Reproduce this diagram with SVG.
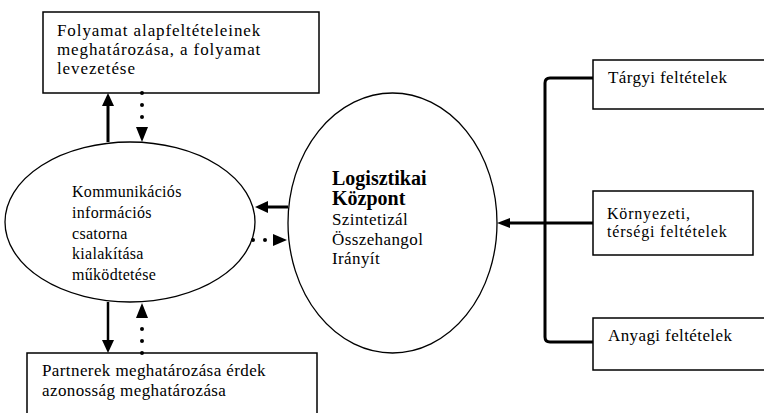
<svg xmlns="http://www.w3.org/2000/svg" width="764" height="413" viewBox="0 0 764 413">
<style>
.box{fill:#fff;stroke:#000;stroke-width:1.5}
.ell{fill:#fff;stroke:#000;stroke-width:1.3}
.t{font-family:"Liberation Serif","Times New Roman",serif;font-size:16px;fill:#000;letter-spacing:0.3px}
.t18{font-size:17px;letter-spacing:0.9px}
.t17{font-size:17px;letter-spacing:0.4px}
.t16{font-size:16px;letter-spacing:0.8px}
.b{font-family:"Liberation Serif","Times New Roman",serif;font-size:20px;font-weight:bold;fill:#000}
.solid{stroke:#000;stroke-width:3;fill:none}
.thin{stroke:#000;stroke-width:2.5;fill:none}
.dot{stroke:#000;stroke-width:4;stroke-linecap:round;stroke-dasharray:0 12;fill:none}
.head{fill:#000}
</style>
<rect width="764" height="413" fill="#fff"/>
<g id="node-top">
<rect class="box" x="43" y="12" width="276" height="81"/>
<text class="t t18" x="57" y="36">Folyamat alapfeltételeinek</text>
<text class="t t18" x="57" y="55">meghatározása, a folyamat</text>
<text class="t t18" x="57" y="74">levezetése</text>
</g>
<g id="node-comm">
<ellipse class="ell" cx="130" cy="222" rx="125" ry="80"/>
<text class="t" x="72" y="197">Kommunikációs</text>
<text class="t" x="72" y="218">információs</text>
<text class="t" x="72" y="239">csatorna</text>
<text class="t" x="72" y="259">kialakítása</text>
<text class="t" x="72" y="280">működtetése</text>
</g>
<g id="node-bottom">
<rect class="box" x="27" y="353" width="290" height="70"/>
<text class="t t17" x="42" y="376">Partnerek meghatározása érdek</text>
<text class="t t17" x="42" y="396">azonosság meghatározása</text>
</g>
<g id="node-center">
<ellipse class="ell" cx="392.5" cy="223" rx="104.5" ry="130"/>
<text class="b" x="332" y="185">Logisztikai</text>
<text class="b" x="332" y="205">Központ</text>
<text class="t t17" x="332" y="225">Szintetizál</text>
<text class="t t17" x="332" y="245">Összehangol</text>
<text class="t t17" x="332" y="264">Irányít</text>
</g>
<g id="node-targyi">
<rect class="box" x="593" y="60" width="180" height="49"/>
<text class="t t17" x="608" y="83">Tárgyi feltételek</text>
</g>
<g id="node-kornyezeti">
<rect class="box" x="593" y="191" width="160" height="64"/>
<text class="t t16" x="607" y="219">Környezeti,</text>
<text class="t t16" x="607" y="237">térségi feltételek</text>
</g>
<g id="node-anyagi">
<rect class="box" x="593" y="318" width="180" height="52"/>
<text class="t t17" x="608" y="341">Anyagi feltételek</text>
</g>
<g id="connectors">
<line class="solid" x1="108" y1="142" x2="108" y2="103"/>
<polygon class="head" points="108,93 102,106 114,106"/>
<line class="dot" x1="142" y1="93" x2="142" y2="118"/>
<polygon class="head" points="142,142 136,127 148,127"/>
<line class="thin" x1="108" y1="302" x2="108" y2="342"/>
<polygon class="head" points="108,353 102,340 114,340"/>
<line class="dot" x1="142" y1="353" x2="142" y2="328"/>
<polygon class="head" points="142,303 136,318 148,318"/>
<line class="solid" x1="288" y1="207" x2="265" y2="207"/>
<polygon class="head" points="255,207 268,201 268,213"/>
<line class="dot" x1="253" y1="240" x2="266" y2="240"/>
<polygon class="head" points="287,240 273,234 273,246"/>
<path class="solid" d="M593,78 H550 Q545,78 545,83 V337 Q545,342 550,342 H593"/>
<line class="solid" x1="593" y1="223" x2="508" y2="223"/>
<polygon class="head" points="497,223 510,218 510,228"/>
</g>
</svg>
